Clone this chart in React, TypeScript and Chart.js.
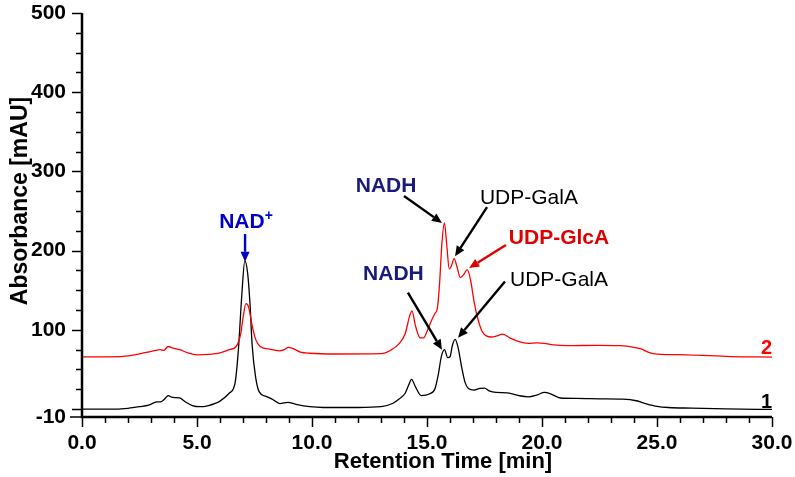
import React, { useEffect, useRef } from 'react';
import { Chart, registerables } from 'chart.js';

Chart.register(...registerables);

// Trace 1 (black)
const trace1Time = [0, 1.5, 2.0, 2.5, 2.9, 3.25, 3.45, 3.6, 3.75, 3.9, 4.05, 4.25, 4.5, 4.8, 5.1, 5.5, 6.0, 6.4, 6.65, 6.8, 6.95, 7.08, 7.2, 7.3, 7.4, 7.55, 7.7, 8.0, 8.3, 8.6, 8.95, 9.3, 9.9, 10.5, 12.0, 13.0, 13.5, 13.8, 14.05, 14.2, 14.33, 14.5, 14.75, 15.1, 15.35, 15.5, 15.62, 15.76, 15.9, 16.0, 16.1, 16.22, 16.35, 16.5, 16.65, 16.8, 17.05, 17.3, 17.5, 17.7, 18.0, 18.5, 19.0, 19.4, 19.8, 20.1, 20.4, 20.8, 21.5, 22.5, 23.5, 24.1, 24.5, 25.0, 25.5, 26.5, 28.0, 30.0];
const trace1Abs = [0, 0, 1, 3, 5, 9, 9.5, 13, 17, 15, 14.5, 14, 9, 4.5, 3, 4.5, 10, 20, 32, 75, 145, 187, 172, 135, 80, 40, 22, 16, 12, 7, 8.5, 6, 3, 2, 2, 3, 7, 13, 20, 30, 37.5, 28, 17, 19, 26, 45, 66, 75, 65, 66, 80, 88, 78, 54, 34, 26, 24, 26, 26.5, 23, 21, 20.5, 17, 15.5, 18, 21, 19, 14, 13.5, 13, 12.5, 10.5, 7, 3.5, 2, 1.2, 0.3, -0.5];

// Trace 2 (red)
const trace2Time = [0, 1.7, 2.2, 2.8, 3.2, 3.4, 3.55, 3.75, 3.95, 4.25, 4.6, 5.0, 5.5, 6.0, 6.4, 6.7, 6.9, 7.0, 7.13, 7.25, 7.4, 7.55, 7.75, 8.1, 8.6, 8.8, 8.97, 9.2, 9.5, 9.9, 11.0, 13.0, 13.4, 13.8, 14.05, 14.25, 14.35, 14.5, 14.7, 14.85, 15.0, 15.2, 15.35, 15.45, 15.55, 15.65, 15.76, 15.85, 15.97, 16.05, 16.18, 16.3, 16.45, 16.6, 16.75, 16.9, 17.05, 17.2, 17.4, 17.6, 17.8, 18.0, 18.28, 18.6, 19.0, 19.4, 19.8, 20.1, 20.5, 21.1, 22.4, 23.4, 24.0, 24.3, 24.7, 25.0, 26.3, 28.2, 30.0];
const trace2Abs = [66, 66.3, 68, 71.5, 74, 75, 74, 79, 77, 75, 71, 68.5, 69, 71, 75, 79, 95, 115, 133, 128, 105, 88, 79, 76, 73.5, 75, 78, 76, 72, 70.5, 69.5, 70, 74, 83, 95, 118, 124, 105, 90, 90, 98, 112, 121, 127, 160, 210, 235, 210, 177, 180, 190, 180, 166, 170, 176, 162, 135, 115, 98, 92, 91, 92, 94.5, 90, 85, 83, 83.5, 83, 81, 80, 80.5, 80, 78, 76, 71, 69.5, 68.5, 66.3, 65.6];

// Axis ticks
const xTickValues = [0, 5, 10, 15, 20, 25, 30];
const xTickLabels = ['0.0', '5.0', '10.0', '15.0', '20.0', '25.0', '30.0'];
const yTickValues = [-10, 100, 200, 300, 400, 500];
const yTickLabels = ['-10', '100', '200', '300', '400', '500'];

// Peak annotations (data coordinates: minutes, mAU)
const annotationTexts = ['NAD', 'NADH', 'UDP-GalA', 'UDP-GlcA', 'NADH', 'UDP-GalA'];
const annotationSup = ['+', '', '', '', '', ''];
const annotationTextPos = [[7.13, 236], [13.22, 281], [19.43, 266.5], [20.74, 216], [13.54, 170], [20.74, 163]];
const annotationArrowFrom = [[7.09, 221], [14.0, 269], [17.61, 255], [18.43, 207], [14.17, 147], [18.39, 161]];
const annotationArrowTo = [[7.09, 186], [15.65, 235], [16.22, 193], [16.83, 178], [15.65, 75], [16.35, 90]];
const annotationColors = ['#0000c8', '#1a1a78', '#000000', '#e00000', '#1a1a78', '#000000'];
const annotationArrowColors = ['#0000c8', '#000000', '#000000', '#e00000', '#000000', '#000000'];
const annotationBold = [true, true, false, true, true, false];

const seriesLabels = ['1', '2'];
const seriesLabelPos = [[30, 8], [30, 77]];
const seriesColors = ['#000000', '#ff0000'];

const FONT = '"Liberation Sans", Arial, sans-serif';

function drawArrow(ctx: CanvasRenderingContext2D, x1: number, y1: number, x2: number, y2: number, color: string) {
  const ang = Math.atan2(y2 - y1, x2 - x1);
  const head = 10;
  const hw = 4.5;
  const bx = x2 - head * Math.cos(ang);
  const by = y2 - head * Math.sin(ang);
  ctx.strokeStyle = color;
  ctx.fillStyle = color;
  ctx.lineWidth = 2.4;
  ctx.beginPath();
  ctx.moveTo(x1, y1);
  ctx.lineTo(bx, by);
  ctx.stroke();
  ctx.beginPath();
  ctx.moveTo(x2, y2);
  ctx.lineTo(bx + hw * Math.sin(ang), by - hw * Math.cos(ang));
  ctx.lineTo(bx - hw * Math.sin(ang), by + hw * Math.cos(ang));
  ctx.closePath();
  ctx.fill();
}

const decorPlugin = {
  id: 'decor',
  afterDraw(chart: any) {
    const ctx: CanvasRenderingContext2D = chart.ctx;
    const xs = chart.scales.x;
    const ys = chart.scales.y;
    const ca = chart.chartArea;
    ctx.save();
    // axis lines
    ctx.strokeStyle = '#000';
    ctx.lineWidth = 2.5;
    ctx.beginPath();
    ctx.moveTo(ca.left, ca.top);
    ctx.lineTo(ca.left, ca.bottom);
    ctx.lineTo(ca.right, ca.bottom);
    ctx.stroke();
    // y ticks
    ctx.lineWidth = 1.5;
    const yMinor: number[] = [];
    for (let v = 0; v <= 500; v += 25) yMinor.push(v);
    yMinor.forEach((v) => {
      const y = Math.round(ys.getPixelForValue(v)) + 0.5;
      const len = v % 100 === 0 ? 10 : 6;
      ctx.beginPath();
      ctx.moveTo(ca.left - len, y);
      ctx.lineTo(ca.left, y);
      ctx.stroke();
    });
    {
      const y = Math.round(ys.getPixelForValue(-10));
      ctx.beginPath();
      ctx.moveTo(ca.left - 12, y);
      ctx.lineTo(ca.left, y);
      ctx.stroke();
    }
    // x ticks
    for (let t = 0; t <= 30; t++) {
      const x = Math.round(xs.getPixelForValue(t)) + 0.5;
      const len = t % 5 === 0 ? 10 : 6;
      ctx.beginPath();
      ctx.moveTo(x, ca.bottom);
      ctx.lineTo(x, ca.bottom + len);
      ctx.stroke();
    }
    // axis titles
    ctx.fillStyle = '#000';
    ctx.font = `bold 23px ${FONT}`;
    ctx.textAlign = 'center';
    ctx.textBaseline = 'middle';
    ctx.save();
    ctx.translate(21, 201);
    ctx.rotate(-Math.PI / 2);
    ctx.fillText('Absorbance [mAU]', 0, 0);
    ctx.restore();
    ctx.font = `bold 22px ${FONT}`;
    ctx.fillText('Retention Time [min]', 443, 462);

    // annotations
    annotationTexts.forEach((txt, i) => {
      const [fx, fy] = annotationArrowFrom[i];
      const [tx, ty] = annotationArrowTo[i];
      drawArrow(ctx, xs.getPixelForValue(fx), ys.getPixelForValue(fy), xs.getPixelForValue(tx), ys.getPixelForValue(ty), annotationArrowColors[i]);
      const px = xs.getPixelForValue(annotationTextPos[i][0]);
      const py = ys.getPixelForValue(annotationTextPos[i][1]);
      ctx.fillStyle = annotationColors[i];
      ctx.font = `${annotationBold[i] ? 'bold ' : ''}21px ${FONT}`;
      ctx.textBaseline = 'middle';
      if (annotationSup[i]) {
        ctx.font = `bold 21px ${FONT}`;
        const w = ctx.measureText(txt).width;
        ctx.font = `bold 14px ${FONT}`;
        const ws = ctx.measureText(annotationSup[i]).width;
        const left = px - (w + ws) / 2;
        ctx.textAlign = 'left';
        ctx.font = `bold 21px ${FONT}`;
        ctx.fillText(txt, left, py);
        ctx.font = `bold 14px ${FONT}`;
        ctx.fillText(annotationSup[i], left + w, py - 6);
      } else {
        ctx.textAlign = 'center';
        ctx.fillText(txt, px, py);
      }
    });

    // series labels
    seriesLabels.forEach((s, i) => {
      ctx.fillStyle = seriesColors[i];
      ctx.font = `bold 20px ${FONT}`;
      ctx.textAlign = 'right';
      ctx.textBaseline = 'middle';
      ctx.fillText(s, xs.getPixelForValue(seriesLabelPos[i][0]), ys.getPixelForValue(seriesLabelPos[i][1]));
    });
    ctx.restore();
  },
};

export default function App() {
  const canvasRef = useRef<HTMLCanvasElement | null>(null);

  useEffect(() => {
    const canvas = canvasRef.current;
    if (!canvas) return;
    const chart = new Chart(canvas, {
      type: 'line',
      data: {
        datasets: [
          {
            label: '2',
            data: trace2Time.map((t, i) => ({ x: t, y: trace2Abs[i] })),
            borderColor: '#ff0000',
            borderWidth: 1.3,
            pointRadius: 0,
            cubicInterpolationMode: 'monotone',
            fill: false,
          },
          {
            label: '1',
            data: trace1Time.map((t, i) => ({ x: t, y: trace1Abs[i] })),
            borderColor: '#000000',
            borderWidth: 1.3,
            pointRadius: 0,
            cubicInterpolationMode: 'monotone',
            fill: false,
          },
        ],
      },
      options: {
        animation: false,
        responsive: false,
        maintainAspectRatio: false,
        layout: { padding: { left: 0, right: 23, top: 13, bottom: 0 } },
        plugins: { legend: { display: false }, tooltip: { enabled: false } },
        scales: {
          x: {
            type: 'linear',
            min: 0,
            max: 30,
            afterBuildTicks: (s: any) => {
              s.ticks = xTickValues.map((v) => ({ value: v }));
            },
            ticks: {
              autoSkip: false,
              maxRotation: 0,
              padding: 14,
              color: '#000',
              font: { family: FONT, size: 21, weight: 'bold' },
              callback: (v: any) => xTickLabels[xTickValues.indexOf(Number(v))],
            },
            grid: { display: false, drawTicks: false },
            border: { display: false },
            afterFit: (s: any) => {
              s.height = 60;
              s.paddingLeft = 0;
              s.paddingRight = 0;
            },
          },
          y: {
            type: 'linear',
            min: -10,
            max: 500,
            afterBuildTicks: (s: any) => {
              s.ticks = yTickValues.map((v) => ({ value: v }));
            },
            ticks: {
              autoSkip: false,
              padding: 16,
              color: '#000',
              font: { family: FONT, size: 21, weight: 'bold' },
              callback: (v: any) => yTickLabels[yTickValues.indexOf(Number(v))],
            },
            grid: { display: false, drawTicks: false },
            border: { display: false },
            afterFit: (s: any) => {
              s.width = 82;
              s.paddingTop = 0;
              s.paddingBottom = 0;
            },
          },
        },
      } as any,
      plugins: [decorPlugin],
    });
    return () => chart.destroy();
  }, []);

  return (
    <div style={{ position: 'fixed', left: 0, top: 0, width: 795, height: 477, background: '#fff' }}>
      <canvas ref={canvasRef} width={795} height={477} style={{ width: 795, height: 477, display: 'block' }} />
    </div>
  );
}
